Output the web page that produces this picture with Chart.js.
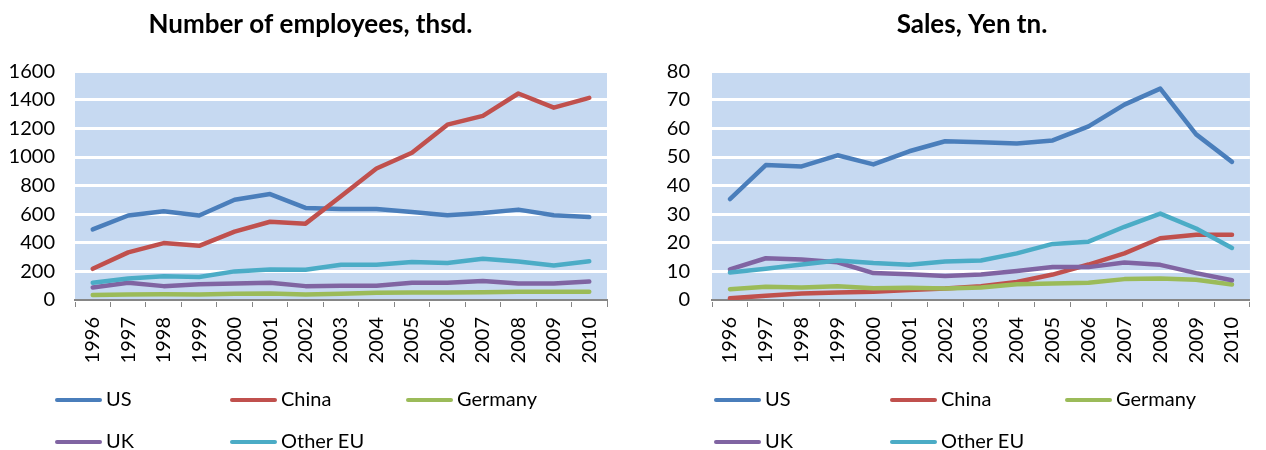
<!DOCTYPE html>
<html>
<head>
<meta charset="utf-8">
<script src="https://cdn.jsdelivr.net/npm/chart.js@4.4.1/dist/chart.umd.min.js"></script>
<style>
  body { margin: 0; background: #fff; font-family: Lato, sans-serif; }
  #wrap { position: relative; width: 1266px; height: 450px; overflow: hidden; }
  canvas { position: absolute; top: 0; }
  .item { position: absolute; font-size: 20px; line-height: 24px; color: #000; white-space: nowrap; }
  .item span { display: inline-block; width: 47px; height: 4px; border-radius: 2px; vertical-align: middle; margin-right: 4px; position: relative; top: -1px; }
</style>
</head>
<body>
<div id="wrap">
  <canvas id="empChart" width="640" height="450" style="left:0"></canvas>
  <canvas id="salesChart" width="626" height="450" style="left:640px"></canvas>
  <div id="empLegend"></div>
  <div id="salesLegend"></div>
</div>
<script>
let years = ["1996", "1997", "1998", "1999", "2000", "2001", "2002", "2003", "2004", "2005", "2006", "2007", "2008", "2009", "2010"];
let countries = ["US", "China", "Germany", "UK", "Other EU"];
let lineColors = ["#4a7ebb", "#c0504d", "#9bbb59", "#8064a2", "#4bacc6"];

// employees, thsd.
let empUS = [494, 591, 621, 591, 701, 741, 644, 637, 637, 616, 593, 609, 632, 593, 580];
let empChina = [218, 333, 398, 379, 478, 547, 534, 725, 920, 1030, 1226, 1288, 1444, 1345, 1414];
let empGermany = [35, 39, 41, 39, 44, 46, 39, 44, 51, 53, 53, 55, 58, 58, 58];
let empUK = [87, 120, 97, 110, 115, 120, 97, 99, 99, 120, 120, 133, 115, 115, 129];
let empOtherEU = [120, 150, 166, 161, 200, 214, 212, 246, 246, 265, 258, 288, 269, 242, 271];

// sales, Yen tn.
let salesUS = [35.3, 47.2, 46.7, 50.6, 47.4, 52.0, 55.5, 55.2, 54.7, 55.8, 60.7, 68.3, 73.9, 57.9, 48.3];
let salesChina = [0.6, 1.5, 2.3, 2.6, 2.9, 3.5, 4.0, 4.8, 6.3, 8.9, 12.4, 16.3, 21.6, 22.8, 22.8];
let salesGermany = [3.8, 4.6, 4.4, 4.8, 4.1, 4.3, 4.0, 4.4, 5.5, 5.8, 6.0, 7.3, 7.5, 7.1, 5.4];
let salesUK = [10.7, 14.6, 14.2, 13.2, 9.4, 9.0, 8.4, 8.9, 10.1, 11.5, 11.5, 13.1, 12.3, 9.4, 6.9];
let salesOtherEU = [9.6, 10.9, 12.4, 13.8, 12.9, 12.3, 13.5, 13.8, 16.3, 19.6, 20.4, 25.6, 30.2, 25.0, 18.2];

Chart.defaults.font.family = "Lato";
Chart.defaults.font.size = 20;
Chart.defaults.color = "#000";

const plotBg = {
  id: "plotBg",
  afterLayout(chart) {
    // let the y labels use the space left of the padding
    chart.scales.y.left = 0;
  },
  beforeDraw(chart) {
    const a = chart.chartArea;
    const ctx = chart.ctx;
    ctx.save();
    ctx.fillStyle = "#c6d9f1";
    ctx.fillRect(a.left, a.top, a.right - a.left, a.bottom - a.top);
    ctx.restore();
  }
};

function makeSets(series) {
  return series.map((data, i) => ({
    label: countries[i],
    data: data,
    borderColor: lineColors[i],
    backgroundColor: lineColors[i],
    borderWidth: 4.5,
    pointRadius: 0,
    tension: 0,
    borderJoinStyle: "round",
    borderCapStyle: "round",
    order: series.length - i
  }));
}

function makeChart(id, title, series, yMax, yStep, pad, yWidth, tickPad) {
  return new Chart(document.getElementById(id), {
    type: "line",
    data: { labels: years, datasets: makeSets(series) },
    plugins: [plotBg],
    options: {
      responsive: false,
      animation: false,
      devicePixelRatio: 1,
      layout: { padding: pad },
      plugins: {
        legend: { display: false },
        tooltip: { enabled: false },
        title: {
          display: true,
          text: title,
          font: { size: 26, weight: "bold" },
          color: "#000",
          padding: { top: 9, bottom: 31 }
        }
      },
      scales: {
        x: {
          offset: true,
          afterFit: (s) => { s.height = 80; },
          grid: { offset: true, drawOnChartArea: false, drawTicks: true, tickLength: 7, color: "#868686", lineWidth: 1 },
          border: { display: true, color: "#868686", width: 2 },
          ticks: { minRotation: 90, maxRotation: 90, autoSkip: false, padding: 10 }
        },
        y: {
          min: 0,
          max: yMax,
          afterFit: (s) => { s.width = yWidth; },
          grid: { color: "#fff", lineWidth: 3, drawTicks: false },
          border: { display: false },
          ticks: { stepSize: yStep, padding: tickPad, callback: (v) => String(v) }
        }
      }
    }
  });
}

makeChart("empChart", "Number of employees, thsd.",
  [empUS, empChina, empGermany, empUK, empOtherEU], 1600, 200,
  { left: 14, right: 33, top: 0, bottom: 70 }, 61, 20);

makeChart("salesChart", "Sales, Yen tn.",
  [salesUS, salesChina, salesGermany, salesUK, salesOtherEU], 80, 10,
  { left: 38, right: 0, top: 0, bottom: 70 }, 34, 22);

function makeLegend(id, cols) {
  let rows = [398, 440];
  let html = "";
  countries.forEach((name, i) => {
    let x = cols[i % 3];
    let y = rows[Math.floor(i / 3)] - 12;
    html += `<div class="item" style="left:${x}px;top:${y}px"><span style="background:${lineColors[i]}"></span>${name}</div>`;
  });
  document.getElementById(id).innerHTML = html;
}

makeLegend("empLegend", [55, 230, 406]);
makeLegend("salesLegend", [714, 890, 1065]);
</script>
</body>
</html>
